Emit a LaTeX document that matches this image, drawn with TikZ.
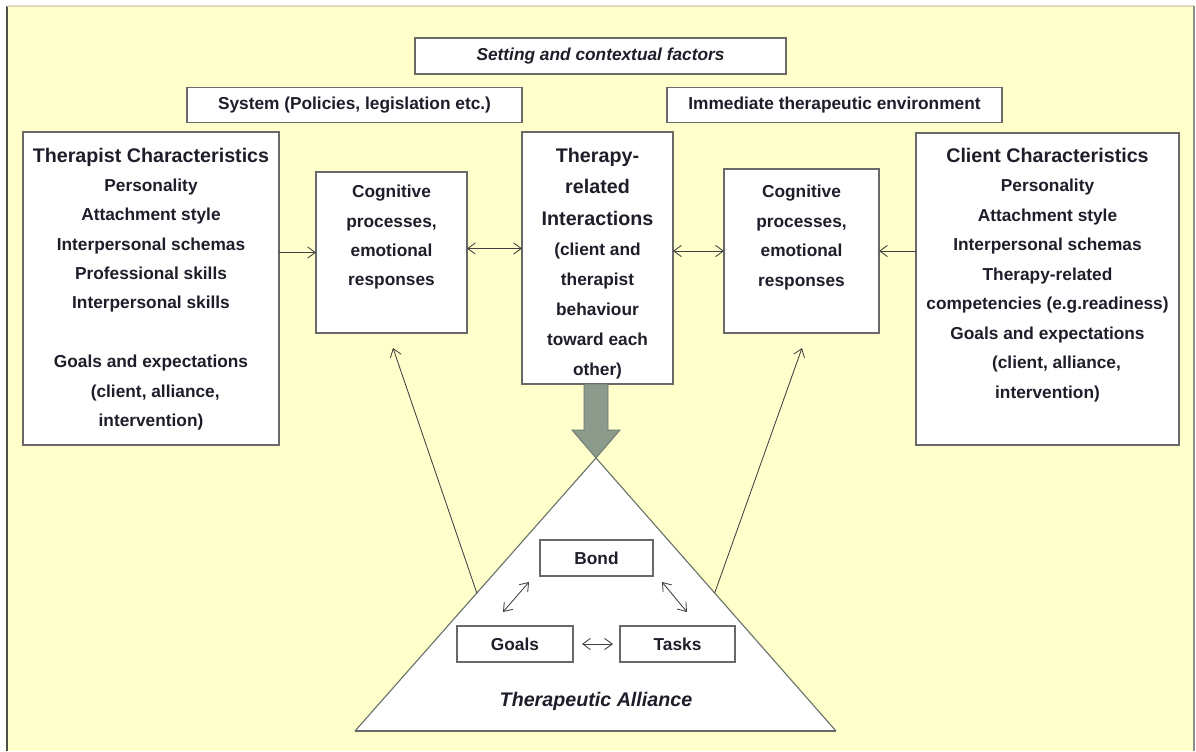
\documentclass[tikz,border=0pt]{standalone}
\usepackage{fontspec}
\setmainfont{Liberation Sans}
\usetikzlibrary{arrows.meta,positioning,calc}
\definecolor{paper}{RGB}{255,255,204}
\definecolor{ink}{RGB}{30,30,42}
\definecolor{edge}{RGB}{105,105,105}
\definecolor{wire}{RGB}{64,64,64}
\definecolor{fat}{RGB}{140,154,140}
\definecolor{fatedge}{RGB}{105,115,105}
\definecolor{leftrule}{RGB}{80,80,70}
\definecolor{toprule}{RGB}{220,220,195}
\definecolor{rightrule}{RGB}{140,140,140}
\newcommand{\pxu}{0.025cm}
\newcommand{\headfont}{\fontsize{14}{21}\selectfont}

\begin{document}
\begin{tikzpicture}[
            x=0.025cm, y=-0.025cm,
            every node/.append style={text=ink},
            frame/.style={draw=edge, line width=0.9pt, fill=white, inner sep=0pt, outer sep=0pt},
            txt/.style={inner sep=0pt, align=center, font=\fontsize{12.3}{20.9}\selectfont\bfseries},
            conn/.style={draw=wire, line width=0.6pt, -{Straight Barb[length=5.5pt,width=8pt]}},
            both/.style={conn, {Straight Barb[length=5.5pt,width=8pt]}-{Straight Barb[length=5.5pt,width=8pt]}}
        ]
            \useasboundingbox (0,0) rectangle (1196,751);
            \fill[paper] (7,6) rectangle (1194,751);
            \draw[draw=leftrule, line width=1.2pt] (7,6) -- (7,751);
            \draw[draw=toprule, line width=0.8pt] (7,6) -- (1194,6);
            \draw[draw=rightrule, line width=1.4pt] (1194,6) -- (1194,751);

            \node[frame, txt, minimum width=371*\pxu, minimum height=36*\pxu] (setting) at (600.5,56) {\itshape Setting and contextual factors};
            \node[frame, txt, minimum width=335*\pxu, minimum height=35*\pxu] (system) at (354.5,105) {System (Policies, legislation etc.)};
            \node[frame, txt, minimum width=335*\pxu, minimum height=35*\pxu] (milieu) at (834.5,105) {Immediate therapeutic environment};

            \coordinate (apex) at (596,458);
            \coordinate (bl) at (355,731);
            \coordinate (br) at (836,731);
            \fill[white] (apex) -- (bl) -- (br) -- cycle;
            \draw[draw=fatedge, line width=0.8pt] (bl) -- (apex) -- (br);
            \draw[draw=edge, line width=1.4pt] (bl) -- (br);

            \node[frame, anchor=north west, minimum width=256*\pxu, minimum height=313*\pxu] (ther) at (23,132) {};
            \node[txt, below=11pt of ther.north] (thertxt) {{\headfont Therapist Characteristics}\\ Personality\\ Attachment style\\ Interpersonal schemas\\ Professional skills\\ Interpersonal skills\\[20.9pt]Goals and expectations\\ \hspace*{6pt}(client, alliance,\\ intervention)};

            \node[frame, anchor=north west, minimum width=151*\pxu, minimum height=161*\pxu] (lcog) at (316,172) {};
            \node[txt, below=9.2pt of lcog.north] (lcogtxt) {Cognitive\\ processes,\\ emotional\\ responses};

            \node[frame, anchor=north west, minimum width=151*\pxu, minimum height=252*\pxu] (centre) at (522,132) {};
            \node[txt, font=\fontsize{12.3}{21.3}\selectfont\bfseries, below=11pt of centre.north] (centretxt) {{\headfont Therapy-}\\[1.4pt]{\headfont related}\\[1.4pt]{\headfont Interactions}\\ (client and\\ therapist\\ behaviour\\ toward each\\ other)};

            \node[frame, anchor=north west, minimum width=155*\pxu, minimum height=164*\pxu] (rcog) at (724,169) {};
            \node[txt, below=11.4pt of rcog.north] (rcogtxt) {Cognitive\\ processes,\\ emotional\\ responses};

            \node[frame, anchor=north west, minimum width=263*\pxu, minimum height=312*\pxu] (client) at (916,133) {};
            \node[txt, font=\fontsize{12.3}{21}\selectfont\bfseries, below=10.4pt of client.north] (clienttxt) {{\headfont Client Characteristics}\\ Personality\\ Attachment style\\ Interpersonal schemas\\ Therapy-related\\ competencies (e.g.readiness)\\ Goals and expectations\\ \hspace*{12.8pt}(client, alliance,\\ intervention)};

            \coordinate (shaftl) at ($(apex)+(-12,0)$);
            \coordinate (shaftr) at ($(apex)+(12,0)$);
            \draw[fill=fat, draw=fatedge, line width=0.6pt] (apex) -- ++(-24,-28) -- ++(12,0)
                -- (shaftl |- centre.south) -- (shaftr |- centre.south)
                -- ($(apex)+(12,-28)$) -- ($(apex)+(24,-28)$) -- cycle;

            \draw[conn] (ther.east |- lcog.west) -- (lcog.west);
            \coordinate (lc) at ($(lcog.east)+(0,-4)$);
            \draw[both] (lc) -- (lc -| centre.west);
            \draw[both] (centre.east |- rcog.west) -- (rcog.west);
            \draw[conn] (client.west |- rcog.east) -- (rcog.east);

            \coordinate (tl) at ($(apex)!0.4945!(bl)$);
            \coordinate (tr) at ($(apex)!0.4945!(br)$);
            \draw[conn] (tl) -- ($(lcog.south)+(1.5,15)$);
            \draw[conn] (tr) -- ($(rcog.south)+(0.5,15)$);

            \node[frame, txt, minimum width=113*\pxu, minimum height=36*\pxu] (bond) at (596.5,558) {Bond};
            \node[frame, txt, minimum width=116*\pxu, minimum height=36*\pxu] (goals) at (515,644) {Goals};
            \node[frame, txt, minimum width=115*\pxu, minimum height=36*\pxu] (tasks) at (677.5,644) {Tasks};
            \draw[both] ($(goals.east)+(9,0)$) -- ($(tasks.west)+(-7,0)$);
            \draw[both] ($(bond.south west)+(-11,6)$) -- ($(goals.north)+(-12,-14)$);
            \draw[both] ($(bond.south east)+(9,6)$) -- ($(tasks.north)+(9.5,-14)$);

            \node[txt, font=\headfont\bfseries\itshape] (alliance) at (596,701) {Therapeutic Alliance};
        \end{tikzpicture}
\end{document}
